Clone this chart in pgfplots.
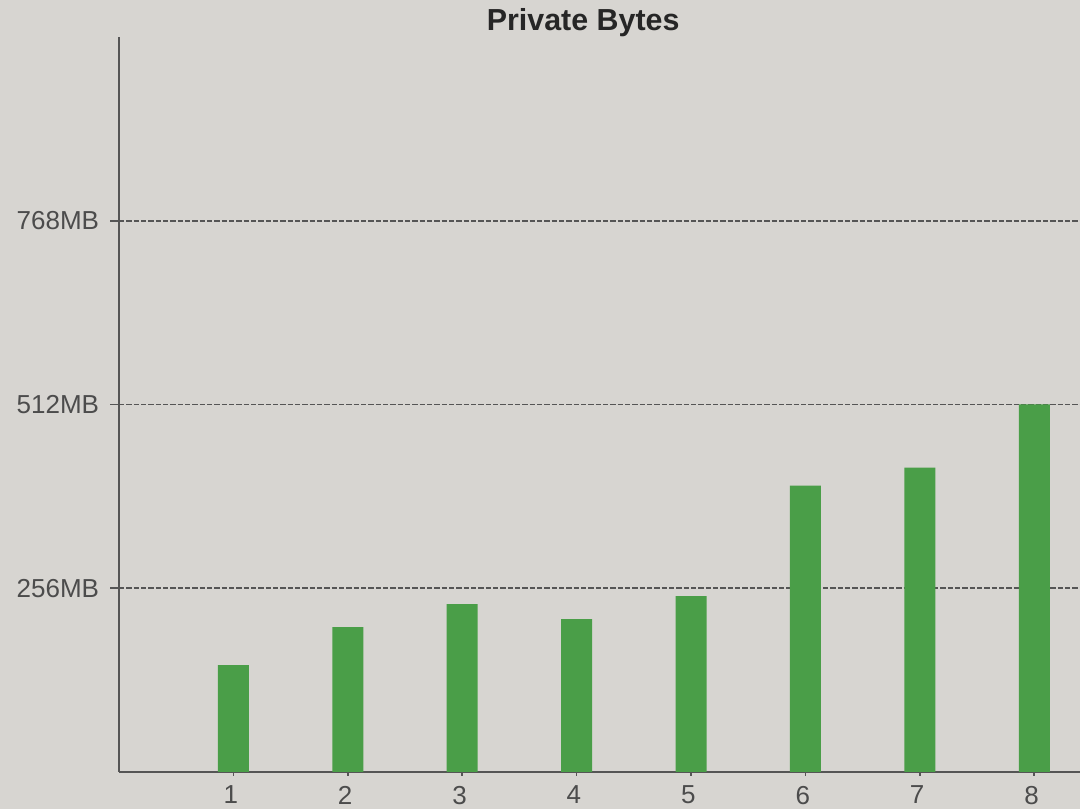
\documentclass[border=0pt]{standalone}
\usepackage{pgfplots}
\pgfplotsset{compat=1.18}
\usepackage{fontspec}
\setmainfont{Liberation Sans}

\definecolor{bg}{HTML}{D7D5D1}
\definecolor{barg}{HTML}{4A9E48}
\definecolor{axgray}{HTML}{555555}

\begin{document}
\begin{tikzpicture}
% page = 1080 x 809 px, 1px = 0.75pt
\useasboundingbox[fill=bg] (0,0) rectangle (810pt,606.75pt);
\begin{axis}[
    at={(89.25pt,27.75pt)},
    anchor=origin,
    scale only axis,
    width=720.75pt,
    height=551.25pt,
    xmin=0, xmax=8.4,
    ymin=0, ymax=1024,
    axis x line*=bottom,
    axis y line*=left,
    axis line style={axgray, line width=1.5pt},
    xtick={1,...,8},
    ytick={256,512,768},
    yticklabels={256MB,512MB,768MB},
    tick align=outside,
    major tick style={axgray, line width=1.2pt},
    x tick style={/pgfplots/major tick length=3pt},
    y tick style={/pgfplots/major tick length=6.75pt},
    ymajorgrids,
    major grid style={axgray, line width=1.3pt, dash pattern=on 4pt off 1.5pt},
    /pgf/number format/assume math mode=true,
    ticklabel style={font=\fontsize{19.5pt}{22pt}\selectfont, text=black!70},
    yticklabel style={anchor=east, inner sep=0pt, xshift=-10.5pt},
    xticklabel style={anchor=north, inner sep=0pt, yshift=-6pt, xshift=-2pt},
    every axis title shift=0pt,
    title={Private Bytes},
    title style={at={(0.483,1.0082)}, anchor=base,
        font=\bfseries\fontsize{22.8pt}{26pt}\selectfont, text=black!85},
    clip=false,
]
\addplot[ybar, bar width=23.25pt, fill=barg, draw=none] coordinates {
    (1,149) (2,202) (3,234) (4,213) (5,245) (6,399) (7,424) (8,512)
};
\end{axis}
\end{tikzpicture}
\end{document}
